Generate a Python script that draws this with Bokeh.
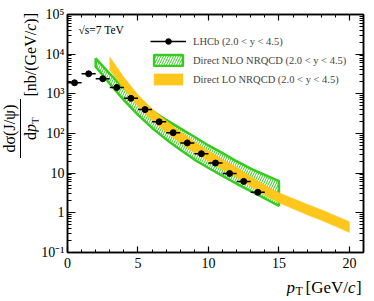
from bokeh.plotting import figure
from bokeh.layouts import row, column
from bokeh.models import (Range1d, LinearAxis, LogAxis, FixedTicker, CustomJSTickFormatter,
                          Label, Legend, LegendItem, Div)
from bokeh.embed import file_html
from bokeh.resources import INLINE

# ---------------- data ----------------
pt_bin_lo = [0, 1, 2, 3, 4, 5, 6, 7, 8, 9, 10, 11, 12, 13]
pt_bin_hi = [1, 2, 3, 4, 5, 6, 7, 8, 9, 10, 11, 12, 13, 14]
lhcb_xsec = [1900, 3200, 2400, 1450, 770, 400, 197, 105, 58, 31, 18, 9.8, 6.2, 3.3]

nlo_pt = [2, 3, 4, 5, 6, 7, 8, 9, 10, 11, 12, 13, 14, 15]
nlo_hi = [7800, 3200, 1400, 690, 380, 220, 135, 83, 50, 32, 20, 13, 9.1, 6.3]
nlo_lo = [4800, 1800, 690, 295, 138, 71, 39, 22, 13.5, 8.5, 5.4, 3.5, 2.3, 1.5]

lo_pt = [3, 4, 5, 6, 7, 8, 9, 10, 11, 12, 13, 14, 15, 16, 17, 18, 19, 20]
lo_hi = [8500, 2600, 950, 420, 210, 112, 63, 37, 22, 14, 8.3, 5.0, 3.2, 2.3, 1.65, 1.2, 0.85, 0.60]
lo_lo = [4000, 1320, 480, 214, 107, 58, 33, 20, 12.3, 7.8, 4.6, 2.8, 1.8, 1.26, 0.89, 0.65, 0.46, 0.32]

x_ticks = [0, 5, 10, 15, 20]
x_minor = list(range(0, 22))
y_ticks = [0.1, 1, 10, 100, 1000, 10000, 100000]
y_tick_labels = ["10\u207b\u00b9", "1", "10", "10\u00b2", "10\u00b3", "10\u2074", "10\u2075"]
y_minor = [m * 10.0 ** k for k in range(-1, 5) for m in range(2, 10)]

legend_labels = ["LHCb (2.0 < y < 4.5)",
                 "Direct NLO NRQCD (2.0 < y < 4.5)",
                 "Direct LO NRQCD (2.0 < y < 4.5)"]

FONT = "Liberation Serif"
GREEN = "#35cc1f"
YELLOW = "#ffc71c"

# ---------------- main figure ----------------
p = figure(width=328, height=274, output_backend="svg", toolbar_location=None,
           x_range=Range1d(0, 21), y_range=Range1d(0.1, 1e5), y_axis_type="log",
           min_border_left=23, min_border_right=3, min_border_top=14, min_border_bottom=22)
p.xgrid.visible = False
p.ygrid.visible = False
p.outline_line_color = "black"
p.outline_line_width = 1.5
p.background_fill_color = "white"
p.border_fill_color = "white"

blank = CustomJSTickFormatter(code="return '';")
y_fmt = CustomJSTickFormatter(args=dict(yt=y_ticks, yl=y_tick_labels), code="""
const i = yt.findIndex(t => Math.abs(Math.log10(t) - Math.log10(tick)) < 1e-6);
return i >= 0 ? yl[i] : '';
""")


def style(ax, major_in, minor_in):
    ax.axis_line_color = "black"
    ax.axis_line_width = 1.5
    ax.major_tick_in = major_in
    ax.major_tick_out = 0
    ax.minor_tick_in = minor_in
    ax.minor_tick_out = 0
    ax.major_tick_line_width = 1.2
    ax.minor_tick_line_width = 1
    ax.major_label_text_font = FONT
    ax.major_label_text_font_size = "14px"
    ax.major_label_text_color = "black"


xax = p.xaxis[0]
xax.ticker = FixedTicker(ticks=x_ticks, minor_ticks=x_minor)
style(xax, 6, 3)
xax.major_label_standoff = 5

yax = p.yaxis[0]
yax.ticker = FixedTicker(ticks=y_ticks, minor_ticks=y_minor)
yax.formatter = y_fmt
style(yax, 8, 4)
yax.major_label_standoff = 3

top = LinearAxis(ticker=FixedTicker(ticks=x_ticks, minor_ticks=x_minor), formatter=blank)
style(top, 6, 3)
top.major_label_standoff = 0
p.add_layout(top, "above")

right = LogAxis(ticker=FixedTicker(ticks=y_ticks, minor_ticks=y_minor), formatter=blank)
style(right, 8, 4)
right.major_label_standoff = 0
p.add_layout(right, "right")

# ---------------- bands ----------------
nlo = p.patch(nlo_pt + nlo_pt[::-1], nlo_lo + nlo_hi[::-1],
              fill_color="white", hatch_pattern="/", hatch_color=GREEN,
              hatch_scale=5, hatch_weight=1.0,
              line_color=GREEN, line_width=2.5)
lo = p.patch(lo_pt + lo_pt[::-1], lo_lo + lo_hi[::-1],
             fill_color=YELLOW, line_color=YELLOW, line_width=0.5)

# ---------------- data points ----------------
pt_mid = [(a + b) / 2 for a, b in zip(pt_bin_lo, pt_bin_hi)]
seg = p.segment(x0=pt_bin_lo, y0=lhcb_xsec, x1=pt_bin_hi, y1=lhcb_xsec,
                line_color="black", line_width=1.5)
pts = p.scatter(pt_mid, lhcb_xsec, size=6, marker="circle", color="black")

legend = Legend(items=[LegendItem(label=legend_labels[0], renderers=[seg, pts]),
                       LegendItem(label=legend_labels[1], renderers=[nlo]),
                       LegendItem(label=legend_labels[2], renderers=[lo])],
                location=(83, 166), glyph_width=36, glyph_height=14, label_height=14,
                spacing=5, padding=0, margin=0, label_standoff=7,
                border_line_color=None, background_fill_alpha=0,
                label_text_font=FONT, label_text_font_size="10.5px")
p.add_layout(legend)

p.add_layout(Label(x=11, y=217, x_units="screen", y_units="screen", text="\u221as=7 TeV",
                   text_font=FONT, text_font_size="11.5px", text_color="black"))

# ---------------- y axis title: rotated HTML fraction ----------------
YH = 274
ytitle_html = f"""
<div style="position:relative;width:38px;height:{YH}px;overflow:visible;">
 <div style="position:absolute;left:0;top:0;width:{YH}px;height:38px;
      transform-origin:0 0;transform:translateY({YH}px) rotate(-90deg);
      font-family:'{FONT}';font-size:16px;line-height:1;color:black;
      text-align:right;white-space:nowrap;box-sizing:border-box;padding:2px 13px 0 0;"
 ><span style="display:inline-block;text-align:center;vertical-align:baseline;margin-right:2px;"
  ><span style="display:block;padding:0 6px 2px 6px;border-bottom:1.3px solid black;">d&sigma;(J/&psi;)</span
  ><span style="display:block;padding-top:2px;">d<i>p</i><span style="font-size:11px;position:relative;top:3px;">T</span></span
 ></span><span>[nb/(GeV/<i>c</i>)]</span></div>
</div>"""
ytitle = Div(text=ytitle_html, width=38, height=YH, margin=(0, 0, 0, 0))


# ---------------- x axis title ----------------
def text_canvas(w, h):
    f = figure(width=w, height=h, output_backend="svg", toolbar_location=None,
               x_range=Range1d(0, w), y_range=Range1d(0, h),
               x_axis_location=None, y_axis_location=None,
               min_border=0, outline_line_color=None)
    f.xgrid.visible = False
    f.ygrid.visible = False
    f.background_fill_color = "white"
    f.border_fill_color = "white"
    return f


def put(f, h, x, y_top, text, size, style="normal"):
    f.add_layout(Label(x=x, y=h - y_top, text=text, text_align="left",
                       text_baseline="alphabetic", text_font=FONT,
                       text_font_size=size, text_font_style=style, text_color="black"))


XH = 22
xfig = text_canvas(366, XH)
put(xfig, XH, 286, 13, "p", "17px", style="italic")
put(xfig, XH, 295, 16, "T", "12px")
put(xfig, XH, 305, 13, "[GeV/", "17px")
put(xfig, XH, 347.5, 13, "c", "17px", style="italic")
put(xfig, XH, 355.5, 13, "]", "17px")

layout = column(row(ytitle, p, spacing=0), xfig, spacing=0)
open("out.html", "w").write(file_html(layout, INLINE))
